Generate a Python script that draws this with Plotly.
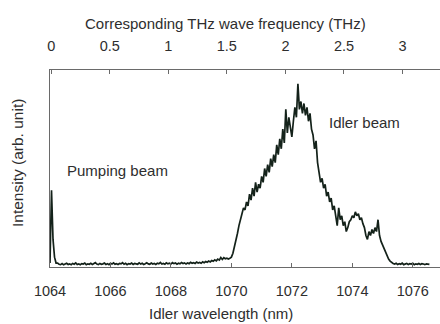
import plotly.graph_objects as go

# ---- data ----
wl_start = 1064.0   # nm
wl_step = 0.05      # nm, sampling step of the spectrum

pump_part = [0.020, 0.390, 0.140, 0.050, 0.020]

baseline_part = [
    0.020, 0.014, 0.012, 0.017, 0.011, 0.015, 0.019, 0.013, 0.016, 0.012,
    0.018, 0.014, 0.021, 0.013, 0.016, 0.011, 0.017, 0.015, 0.020, 0.012,
    0.016, 0.014, 0.019, 0.013, 0.017, 0.022, 0.015, 0.012, 0.018, 0.014,
    0.016, 0.020, 0.013, 0.017, 0.012, 0.019, 0.015, 0.021, 0.014, 0.017,
    0.013, 0.018, 0.016, 0.022, 0.014, 0.019, 0.012, 0.017, 0.015, 0.020,
    0.013, 0.018, 0.016, 0.014, 0.021, 0.015, 0.019, 0.013, 0.017, 0.022,
    0.016, 0.014, 0.020, 0.015, 0.018, 0.013, 0.019, 0.016, 0.023, 0.015,
    0.018, 0.014, 0.021, 0.016, 0.019, 0.015, 0.022, 0.017, 0.020, 0.014,
    0.019, 0.016, 0.023, 0.018, 0.021, 0.015, 0.020, 0.017, 0.024, 0.019,
    0.022, 0.018, 0.025, 0.020, 0.023, 0.019, 0.026, 0.022, 0.028, 0.024,
    0.030, 0.026, 0.033, 0.029, 0.036, 0.031, 0.040, 0.035, 0.048, 0.038,
    0.047, 0.042, 0.045, 0.041,
]

idler_part = [
    0.045, 0.05, 0.07, 0.10, 0.14, 0.17, 0.21, 0.25, 0.27, 0.30,
    0.29, 0.33, 0.31, 0.37, 0.34, 0.40, 0.36, 0.43, 0.38, 0.42,
    0.40, 0.46, 0.43, 0.50, 0.46, 0.52, 0.48, 0.55, 0.51, 0.57,
    0.53, 0.62, 0.57, 0.65, 0.60, 0.70, 0.63, 0.80, 0.68, 0.76,
    0.70, 0.66, 0.74, 0.81, 0.76, 0.93, 0.80, 0.84, 0.78, 0.83,
    0.77, 0.81, 0.74, 0.78, 0.70, 0.67, 0.60, 0.64, 0.53, 0.47,
    0.43, 0.45, 0.40, 0.42, 0.36, 0.38, 0.33, 0.35, 0.29, 0.31,
    0.26, 0.21, 0.30, 0.24, 0.26, 0.21, 0.23, 0.18, 0.20, 0.23,
    0.24, 0.26, 0.25, 0.28, 0.26, 0.27, 0.24, 0.25, 0.22, 0.20,
    0.16, 0.14, 0.18, 0.16, 0.19, 0.17, 0.20, 0.18, 0.24, 0.16,
    0.13, 0.11, 0.09, 0.07, 0.05, 0.04, 0.03,
]

tail_part = [
    0.022, 0.018, 0.015, 0.019, 0.013, 0.017, 0.014, 0.020, 0.012, 0.016,
    0.018, 0.013, 0.017, 0.015, 0.019, 0.012, 0.016, 0.014, 0.018, 0.013,
    0.017, 0.015, 0.012, 0.016, 0.014, 0.013,
]

intensity = pump_part + baseline_part + idler_part + tail_part
wavelength = [round(wl_start + wl_step * i, 3) for i in range(len(intensity))]

wl_ticks = [1064, 1066, 1068, 1070, 1072, 1074, 1076]
thz_ticks = [0, 0.5, 1, 1.5, 2, 2.5, 3]
thz_labels = ["0", "0.5", "1", "1.5", "2", "2.5", "3"]

FONT = "Liberation Sans, Arial, sans-serif"
TXT = "#2e2e2e"
AX = "#6a6a6a"

fig = go.Figure()
fig.add_trace(go.Scatter(
    x=wavelength, y=intensity, mode="lines",
    line=dict(color="#14221a", width=1.7),
    xaxis="x", yaxis="y", showlegend=False, hoverinfo="skip",
))
fig.add_trace(go.Scatter(x=[], y=[], xaxis="x2", yaxis="y", showlegend=False))

fig.update_layout(
    width=440, height=324,
    margin=dict(l=50, r=0, t=70, b=57),
    paper_bgcolor="white", plot_bgcolor="white",
    font=dict(family=FONT, size=14, color=TXT),
    xaxis=dict(
        range=[1064, 1076.9], tickvals=wl_ticks,
        ticks="inside", ticklen=4, tickcolor=AX, tickwidth=1,
        showline=True, linecolor=AX, linewidth=1.2,
        showgrid=False, zeroline=False,
        tickfont=dict(size=14.5, color=TXT),
        ticklabelstandoff=10,
    ),
    xaxis2=dict(
        overlaying="x", side="top", anchor="y",
        range=[-0.01, 3.32], tickvals=thz_ticks, ticktext=thz_labels,
        ticks="inside", ticklen=4, tickcolor=AX, tickwidth=1,
        showline=True, linecolor=AX, linewidth=1.2,
        showgrid=False, zeroline=False,
        tickfont=dict(size=14.5, color=TXT),
        ticklabelstandoff=12,
    ),
    yaxis=dict(
        range=[0, 1], showticklabels=False, ticks="",
        showline=True, linecolor=AX, linewidth=1.2,
        showgrid=False, zeroline=False,
    ),
    annotations=[
        dict(x=1064.5, y=0.49, xref="x", yref="y", text="Pumping beam",
             showarrow=False, xanchor="left", yanchor="middle",
             font=dict(size=15, color=TXT)),
        dict(x=1073.16, y=0.736, xref="x", yref="y", text="Idler beam",
             showarrow=False, xanchor="left", yanchor="middle",
             font=dict(size=15, color=TXT)),
        # axis titles
        dict(x=0.438, y=0, xref="paper", yref="paper", yshift=-46,
             text="Idler wavelength (nm)", showarrow=False,
             xanchor="center", yanchor="middle", font=dict(size=15, color=TXT)),
        dict(x=0.451, y=1, xref="paper", yref="paper", yshift=47,
             text="Corresponding THz wave frequency (THz)", showarrow=False,
             xanchor="center", yanchor="middle", font=dict(size=15, color=TXT)),
        dict(x=0, y=0.528, xref="paper", yref="paper", xshift=-32,
             text="Intensity (arb. unit)", showarrow=False, textangle=-90,
             xanchor="center", yanchor="middle", font=dict(size=15.5, color=TXT)),
    ],
)

fig.write_html("out.html")
